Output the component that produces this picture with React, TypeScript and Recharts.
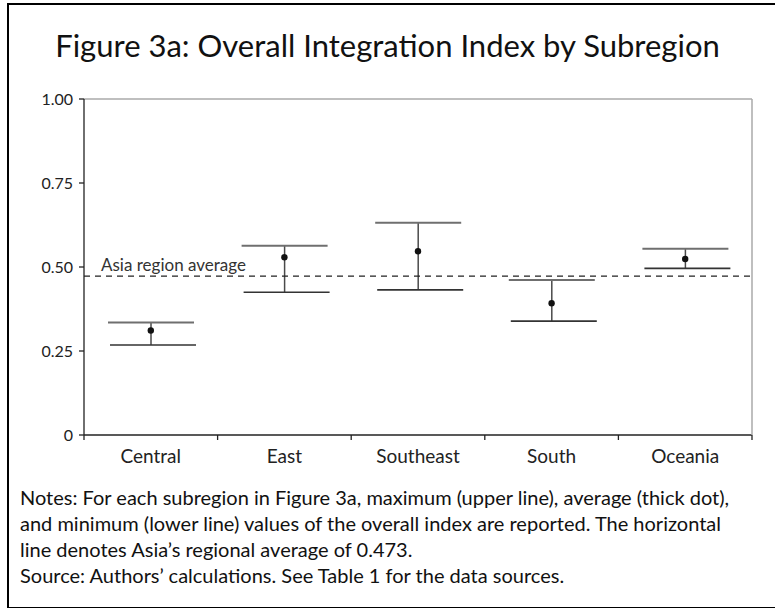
import { ComposedChart, Bar, Scatter, XAxis, YAxis, ReferenceLine } from 'recharts'

const subregions = ['Central', 'East', 'Southeast', 'South', 'Oceania']
const maxValues = [0.335, 0.563, 0.632, 0.461, 0.554]
const avgValues = [0.311, 0.529, 0.547, 0.392, 0.524]
const minValues = [0.268, 0.425, 0.432, 0.339, 0.496]
const asiaAverage = 0.473
const yTicks = [0, 0.25, 0.5, 0.75, 1]

const noteLines = [
  'Notes: For each subregion in Figure 3a, maximum (upper line), average (thick dot),',
  'and minimum (lower line) values of the overall index are reported. The horizontal',
  'line denotes Asia\u2019s regional average of 0.473.',
  'Source: Authors\u2019 calculations. See Table 1 for the data sources.',
]

const data = subregions.map((name, i) => ({
  name,
  range: [minValues[i], maxValues[i]],
  avg: avgValues[i],
}))

const FONT = 'Lato, "Open Sans", sans-serif'

// whisker: upper cap, lower cap and the connecting vertical line
const RangeMarker = (props: any) => {
  const { x, y, width, height } = props
  const cx = x + width / 2
  const top = Math.min(y, y + height)
  const bottom = Math.max(y, y + height)
  return (
    <g>
      <line x1={cx} x2={cx} y1={top} y2={bottom} stroke="#4a4a4a" strokeWidth={1.5} />
      <line x1={x} x2={x + width} y1={top} y2={top} stroke="#6f6f6f" strokeWidth={2} />
      <line x1={x + 2} x2={x + width + 2} y1={bottom} y2={bottom} stroke="#333" strokeWidth={1.6} />
    </g>
  )
}

const AvgDot = (props: any) => <circle cx={props.cx} cy={props.cy} r={3.2} fill="#111" />

const AverageLabel = ({ viewBox }: any) => (
  <text x={viewBox.x + 17} y={viewBox.y - 5} fontSize={17} fill="#333" fontFamily={FONT}>
    Asia region average
  </text>
)

// category label plus tick marks on the band edges
const BandTick = (props: any) => {
  const { x, y, payload, index, visibleTicksCount } = props
  const half = payload.offset || 0
  return (
    <g>
      <line x1={x - half} x2={x - half} y1={y} y2={y + 5} stroke="#222" strokeWidth={1.3} />
      {index === visibleTicksCount - 1 && (
        <line x1={x + half} x2={x + half} y1={y} y2={y + 5} stroke="#222" strokeWidth={1.3} />
      )}
      <text x={x} y={y + 28} textAnchor="middle" fontSize={19} fill="#222" fontFamily={FONT}>
        {payload.value}
      </text>
    </g>
  )
}

export default function App() {
  return (
    <div
      style={{
        position: 'absolute',
        left: 0,
        top: 0,
        width: 775,
        height: 608,
        background: '#fff',
        fontFamily: FONT,
        color: '#111',
      }}
    >
      <div
        style={{
          position: 'absolute',
          left: 7,
          top: 3,
          width: 780,
          height: 602,
          borderLeft: '2px solid #000',
          borderTop: '2px solid #000',
          borderBottom: '2px solid #000',
        }}
      />
      <div
        style={{
          position: 'absolute',
          left: 0,
          width: 775,
          top: 25,
          textAlign: 'center',
          fontSize: 31,
          lineHeight: '40px',
        }}
      >
        Figure 3a: Overall Integration Index by Subregion
      </div>
      <div style={{ position: 'absolute', left: 0, top: 0 }}>
        <ComposedChart
          width={775}
          height={475}
          data={data}
          margin={{ top: 99, right: 22, bottom: 5, left: 0 }}
        >
          <XAxis
            xAxisId="cat"
            dataKey="name"
            axisLine={{ stroke: '#222', strokeWidth: 1.3 }}
            tickLine={false}
            tickSize={0}
            tickMargin={0}
            height={35}
            interval={0}
            tick={<BandTick />}
          />
          <YAxis
            domain={[0, 1]}
            ticks={yTicks}
            width={84}
            tickSize={5}
            tickMargin={6}
            tickFormatter={(v: number) => (v === 0 ? '0' : v.toFixed(2))}
            tick={{ fontSize: 16, fill: '#222', fontFamily: FONT }}
            axisLine={{ stroke: '#222', strokeWidth: 1.3 }}
            tickLine={{ stroke: '#222', strokeWidth: 1.3 }}
          />
          <YAxis
            yAxisId="right"
            orientation="right"
            domain={[0, 1]}
            width={1}
            tick={false}
            tickLine={false}
            axisLine={{ stroke: '#aaa', strokeWidth: 1.5 }}
          />
          <ReferenceLine y={1} stroke="#aaa" strokeWidth={1.5} xAxisId="cat" />
          <ReferenceLine
            y={asiaAverage}
            xAxisId="cat"
            stroke="#222"
            strokeWidth={1.3}
            strokeDasharray="6 5"
            label={<AverageLabel />}
          />
          <Bar
            xAxisId="cat"
            dataKey="range"
            barSize={86}
            shape={<RangeMarker />}
            isAnimationActive={false}
          />
          <Scatter xAxisId="cat" dataKey="avg" shape={<AvgDot />} isAnimationActive={false} />
        </ComposedChart>
      </div>
      <div
        style={{
          position: 'absolute',
          left: 20,
          top: 484,
          fontSize: 20,
          lineHeight: '26px',
          color: '#111',
          whiteSpace: 'nowrap',
        }}
      >
        {noteLines.map(line => (
          <div key={line}>{line}</div>
        ))}
      </div>
    </div>
  )
}
